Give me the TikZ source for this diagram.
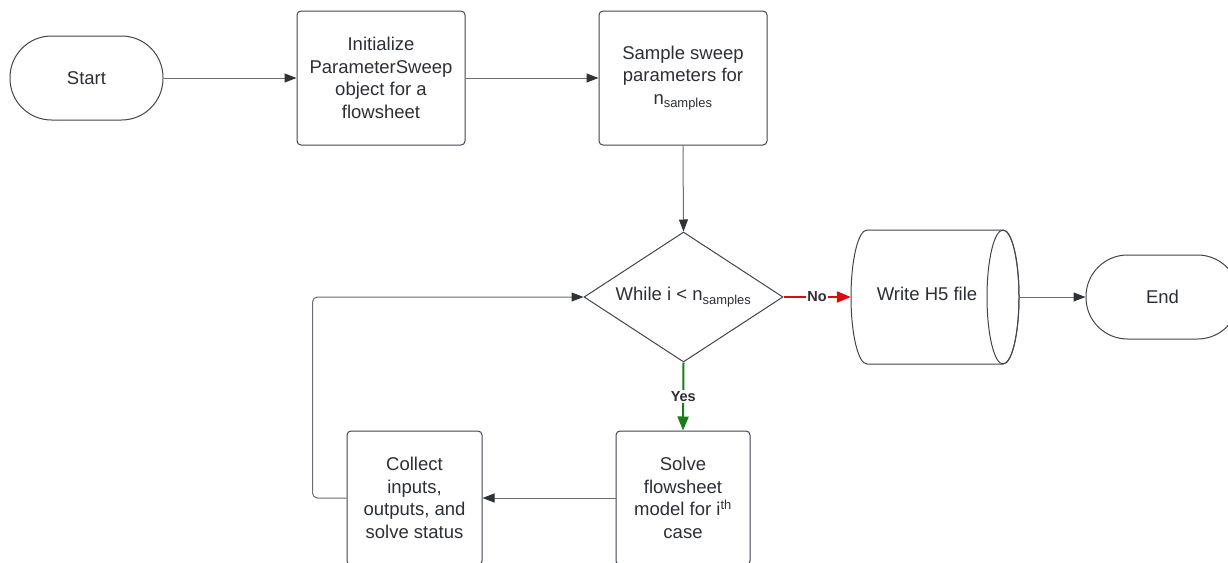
\documentclass[tikz,border=0pt]{standalone}
\usepackage{fontspec}
\setmainfont{Liberation Sans}
\usetikzlibrary{shapes.geometric,arrows.meta}
\definecolor{txtcol}{HTML}{2B2F36}
\definecolor{bordcol}{HTML}{40464F}
\definecolor{lncol}{HTML}{686C73}
\definecolor{tipcol}{HTML}{2E333A}
\definecolor{nored}{HTML}{DC0A0A}
\definecolor{yesgreen}{HTML}{1A7D1A}
\begin{document}
\begin{tikzpicture}[x=1pt,y=-1pt,
  every node/.style={text=txtcol, font=\fontsize{18.5}{22.5}\selectfont},
  box/.style={draw=bordcol, line width=1pt, rounded corners=4pt, align=center, inner sep=0pt},
  term/.style={draw=bordcol, line width=1pt, rounded corners=41.5pt, minimum width=153pt, minimum height=84pt, inner sep=0pt},
  cylline/.style={draw=bordcol, line width=1pt},
  conn/.style={draw=lncol, line width=1pt, -{Triangle[length=12pt,width=9pt,color=tipcol]}},
  noconn/.style={draw=nored, line width=2pt, -{Triangle[length=14pt,width=11pt,color=nored]}},
  yesconn/.style={draw=yesgreen, line width=2pt, -{Triangle[length=14pt,width=11pt,color=yesgreen]}},
  lbl/.style={font=\fontsize{14.5}{16}\selectfont\bfseries, text=txtcol, fill=white, inner sep=1pt}]
\useasboundingbox (0,0) rectangle (1228,562);
\fill[white] (0,0) rectangle (1228,562);

% terminals and process boxes
\node[term] (start) at (86.5,78) {Start};
\node[box, minimum width=168pt, minimum height=134pt] (init) at (381,78)
  {Initialize\\ParameterSweep\\object for a\\flowsheet};
\node[box, minimum width=168pt, minimum height=134pt] (sample) at (683,78)
  {Sample sweep\\parameters for\\n\textsubscript{samples}};
\node[diamond, draw=bordcol, line width=1pt, aspect=1.53, minimum width=199pt, minimum height=130pt, inner sep=0pt] (dec) at (683.5,297)
  {While i < n\textsubscript{samples}};

% cylinder (Write H5 file)
\node[minimum width=168pt, minimum height=134pt, inner sep=0pt] (cyl) at (935,297) {};
\draw[cylline] (867,230) arc[start angle=270, end angle=90, x radius=16, y radius=67]
  -- (1003,364) arc[start angle=90, end angle=-90, x radius=16, y radius=67] -- cycle;
\draw[cylline] (1003,297) ellipse[x radius=16, y radius=67];
\node (cyltxt) at (927,294) {Write H5 file};

\node[term] (end) at (1162.5,297) {End};

\node[box, minimum width=134pt, minimum height=134pt] (solve) at (683,498)
  {Solve\\flowsheet\\model for i\textsuperscript{th}\\case};
\node[box, minimum width=135pt, minimum height=134pt] (collect) at (414.5,498)
  {Collect\\inputs,\\outputs, and\\solve status};

% connectors
\draw[conn] (start.east) -- (init.west);
\draw[conn] (init.east) -- (sample.west);
\draw[conn] (sample.south) -- (dec.north);
\draw[noconn] (dec.east) -- node[lbl] {No} (cyl.west);
\draw[conn] (cyl.east) -- (end.west);
\draw[yesconn] (dec.south) -- node[lbl] {Yes} (solve.north);
\draw[conn] (solve.west) -- (collect.east);
\draw[conn, rounded corners=5pt] (collect.west) -- ++(-34,0) |- (dec.west);
\end{tikzpicture}
\end{document}
